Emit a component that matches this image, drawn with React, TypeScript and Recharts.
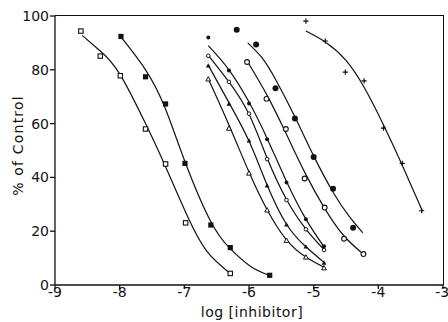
import { ComposedChart, Line, Scatter, XAxis, YAxis } from 'recharts';

const xTicks = [-9, -8, -7, -6, -5, -4, -3];
const yTicks = [0, 20, 40, 60, 80, 100];

// measured points (log [inhibitor], % of control)
const openSquareX = [-8.6, -8.3, -7.99, -7.6, -7.29, -6.98, -6.29];
const openSquareY = [94.4, 85.1, 77.8, 58.0, 45.0, 23.1, 4.3];
const filledSquareX = [-7.98, -7.6, -7.29, -6.99, -6.59, -6.29, -5.68];
const filledSquareY = [92.4, 77.4, 67.3, 45.2, 22.3, 13.9, 3.6];

const clusterX = [-6.63, -6.31, -6.0, -5.72, -5.42, -5.12, -4.84];
const dotY = [92.0, 79.7, 67.5, 54.2, 38.1, 24.4, 14.4];
const ringY = [85.2, 75.5, 63.7, 46.8, 31.6, 20.7, 13.0];
const triFilledY = [81.5, 67.3, 53.6, 36.9, 22.4, 14.2, 8.2];
const triOpenY = [76.5, 58.2, 41.5, 27.8, 16.5, 10.3, 6.3];

const openCircleX = [-6.03, -5.73, -5.43, -5.14, -4.83, -4.53, -4.23];
const openCircleY = [82.9, 69.2, 58.0, 39.6, 28.8, 17.2, 11.5];
const bigDotX = [-6.19, -5.89, -5.59, -5.29, -5.0, -4.7, -4.39];
const bigDotY = [94.9, 89.4, 73.1, 61.9, 47.6, 35.8, 21.3];
const plusX = [-5.12, -4.82, -4.51, -4.22, -3.92, -3.63, -3.33];
const plusY = [98.1, 90.7, 79.1, 75.9, 58.3, 45.2, 27.6];

// fitted curves
const openSquareCurveX = [-8.58, -8.3, -8.0, -7.6, -7.3, -6.96, -6.65, -6.29];
const openSquareCurveY = [92.8, 87.0, 78.5, 60.0, 44.5, 26.0, 12.5, 4.3];
const filledSquareCurveX = [-7.99, -7.6, -7.3, -7.0, -6.6, -6.29, -5.98, -5.7];
const filledSquareCurveY = [92.5, 80.0, 66.0, 46.5, 24.0, 13.5, 7.0, 3.7];
const dotCurveY = [89.0, 80.0, 68.0, 54.5, 38.5, 24.5, 14.2];
const ringCurveY = [85.4, 75.5, 63.5, 47.2, 31.8, 20.8, 13.2];
const triFilledCurveY = [81.7, 67.8, 53.5, 37.2, 22.6, 14.2, 8.4];
const triOpenCurveY = [76.7, 59.5, 42.0, 28.0, 16.8, 10.4, 6.6];
const openCircleCurveX = [-6.02, -5.72, -5.43, -5.13, -4.83, -4.54, -4.23];
const openCircleCurveY = [82.9, 70.5, 56.5, 41.5, 28.5, 18.5, 11.4];
const bigDotCurveX = [-6.02, -5.8, -5.58, -5.28, -5.0, -4.7, -4.45, -4.24];
const bigDotCurveY = [90.0, 84.5, 76.0, 62.0, 48.0, 34.5, 25.5, 19.4];
const plusCurveX = [-5.12, -4.8, -4.5, -4.22, -3.92, -3.63, -3.32];
const plusCurveY = [94.4, 90.0, 83.5, 73.5, 59.5, 44.5, 27.6];

type Pt = { x: number; y: number };
const zip = (xs: number[], ys: number[]): Pt[] => xs.map((x, i) => ({ x, y: ys[i] }));

const series = [
  { id: 'openSquare', points: zip(openSquareX, openSquareY), curve: zip(openSquareCurveX, openSquareCurveY) },
  { id: 'filledSquare', points: zip(filledSquareX, filledSquareY), curve: zip(filledSquareCurveX, filledSquareCurveY) },
  { id: 'dot', points: zip(clusterX, dotY), curve: zip(clusterX, dotCurveY) },
  { id: 'ring', points: zip(clusterX, ringY), curve: zip(clusterX, ringCurveY) },
  { id: 'triFilled', points: zip(clusterX, triFilledY), curve: zip(clusterX, triFilledCurveY) },
  { id: 'triOpen', points: zip(clusterX, triOpenY), curve: zip(clusterX, triOpenCurveY) },
  { id: 'openCircle', points: zip(openCircleX, openCircleY), curve: zip(openCircleCurveX, openCircleCurveY) },
  { id: 'bigDot', points: zip(bigDotX, bigDotY), curve: zip(bigDotCurveX, bigDotCurveY) },
  { id: 'plus', points: zip(plusX, plusY), curve: zip(plusCurveX, plusCurveY) },
];

const INK = '#111';
const FONT = "'DejaVu Sans', sans-serif";

// chart box
const W = 448;
const H = 322;
const M = { top: 16, right: 5, bottom: 0, left: 0 };
const Y_AXIS_W = 55;
const X_AXIS_H = 37;

function marker(kind: string) {
  // eslint-disable-next-line @typescript-eslint/no-explicit-any
  return (props: any) => {
    const { cx, cy } = props;
    if (cx == null || cy == null) return <g />;
    switch (kind) {
      case 'openSquare':
        return <rect x={cx - 2.2} y={cy - 2.2} width={4.4} height={4.4} fill="#fff" stroke={INK} strokeWidth={1.1} />;
      case 'filledSquare':
        return <rect x={cx - 2.6} y={cy - 2.6} width={5.2} height={5.2} fill={INK} />;
      case 'dot':
        return <circle cx={cx} cy={cy} r={2} fill={INK} />;
      case 'ring':
        return <circle cx={cx} cy={cy} r={1.8} fill="#fff" stroke={INK} strokeWidth={1} />;
      case 'triFilled':
        return <path d={`M${cx},${cy - 2.6}L${cx + 2.4},${cy + 1.8}L${cx - 2.4},${cy + 1.8}Z`} fill={INK} />;
      case 'triOpen':
        return <path d={`M${cx},${cy - 2.6}L${cx + 2.4},${cy + 1.8}L${cx - 2.4},${cy + 1.8}Z`} fill="#fff" stroke={INK} strokeWidth={1} />;
      case 'openCircle':
        return <circle cx={cx} cy={cy} r={2.4} fill="#fff" stroke={INK} strokeWidth={1.1} />;
      case 'bigDot':
        return <circle cx={cx} cy={cy} r={3} fill={INK} />;
      default:
        return <path d={`M${cx - 2.6},${cy}h5.2M${cx},${cy - 2.6}v5.2`} stroke={INK} strokeWidth={1.2} />;
    }
  };
}

export default function App() {
  const tick = { fill: INK, fontSize: 14, fontFamily: FONT };
  // top and right edges of the plot box
  const frame = {
    position: 'absolute' as const,
    left: M.left + Y_AXIS_W,
    top: M.top - 0.6,
    width: W - M.left - M.right - Y_AXIS_W + 0.6,
    height: H - M.top - M.bottom - X_AXIS_H + 0.6,
    borderTop: `1.3px solid ${INK}`,
    borderRight: `1.3px solid ${INK}`,
    boxSizing: 'border-box' as const,
    pointerEvents: 'none' as const,
  };
  return (
    <div style={{ position: 'relative', width: W, height: H }}>
      <style>{'body{margin:0}'}</style>
      <ComposedChart width={W} height={H} margin={M}>
        <XAxis
          dataKey="x"
          type="number"
          domain={[-9, -3]}
          ticks={xTicks}
          height={X_AXIS_H}
          tick={tick}
          tickSize={4}
          tickMargin={-2}
          stroke={INK}
          strokeWidth={1.3}
          label={{ value: 'log [inhibitor]', position: 'center', dx: 3, dy: 9, fill: INK, fontSize: 14, fontFamily: FONT, letterSpacing: 0.5 }}
        />
        <YAxis
          dataKey="y"
          type="number"
          domain={[0, 100]}
          ticks={yTicks}
          width={Y_AXIS_W}
          tick={tick}
          tickSize={5}
          tickMargin={1}
          stroke={INK}
          strokeWidth={1.3}
          label={{ value: '% of Control', position: 'center', angle: -90, dx: -9.5, dy: -5, fill: INK, fontSize: 14, fontFamily: FONT, letterSpacing: 1.2 }}
        />

        {series.map(s => (
          <Line
            key={`c-${s.id}`}
            data={s.curve}
            dataKey="y"
            type="natural"
            stroke={INK}
            strokeWidth={1.2}
            dot={false}
            activeDot={false}
            isAnimationActive={false}
          />
        ))}
        {series.map(s => (
          <Scatter
            key={`p-${s.id}`}
            data={s.points}
            dataKey="y"
            shape={marker(s.id)}
            isAnimationActive={false}
          />
        ))}
      </ComposedChart>
      <div style={frame} />
    </div>
  );
}
